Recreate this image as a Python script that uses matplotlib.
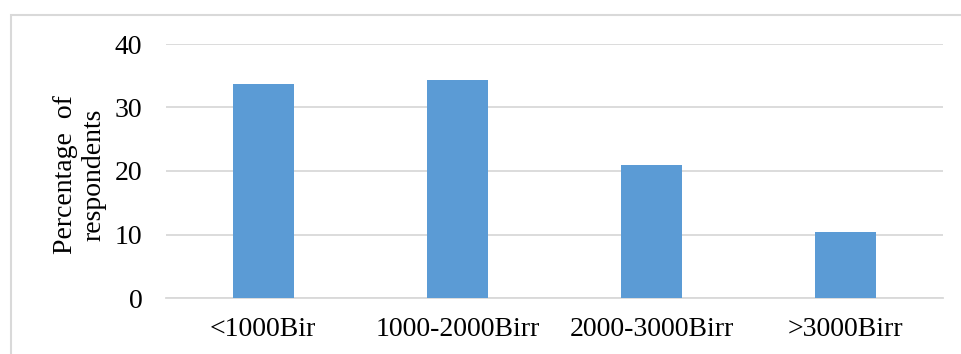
import matplotlib.pyplot as plt
from matplotlib.patches import Rectangle

categories = ['<1000Bir', '1000-2000Birr', '2000-3000Birr', '>3000Birr']
percentages = [33.7, 34.4, 21.0, 10.4]
y_ticks = [0, 10, 20, 30, 40]

plt.rcParams['font.family'] = ['Liberation Serif', 'DejaVu Serif']

W, H = 961, 354
fig = plt.figure(figsize=(W / 100, H / 100), dpi=100)
ax = fig.add_axes([166 / W, 1 - 298 / H, (943 - 166) / W, (298 - 44) / H])

x = range(len(categories))
ax.bar(x, percentages, width=0.315, color='#5B9BD5', zorder=3)

ax.set_xlim(-0.5, len(categories) - 0.5)
ax.set_ylim(0, 40)
ax.set_yticks(y_ticks)
ax.set_xticks(list(x))
ax.set_xticklabels(categories)
ax.tick_params(axis='both', length=0, labelsize=20, colors='black')
ax.tick_params(axis='y', pad=17)
ax.tick_params(axis='x', pad=14)
ax.grid(axis='y', color='#D9D9D9', linewidth=1.3, zorder=0)
for side in ['top', 'right', 'left']:
    ax.spines[side].set_visible(False)
ax.spines['bottom'].set_color('#D9D9D9')
ax.spines['bottom'].set_linewidth(1.3)

fig.text(80 / W, 1 - 175 / H, 'Percentage  of\nrespondents', rotation=90,
         ha='center', va='center', fontsize=20, linespacing=1.2)

# light frame around the chart area
fig.patches.append(Rectangle((11 / W, -0.1), 1.2, 1 - 15 / H + 0.1,
                             transform=fig.transFigure, fill=False,
                             edgecolor='#D9D9D9', linewidth=1.5))

fig.savefig('out.png', dpi=100)
